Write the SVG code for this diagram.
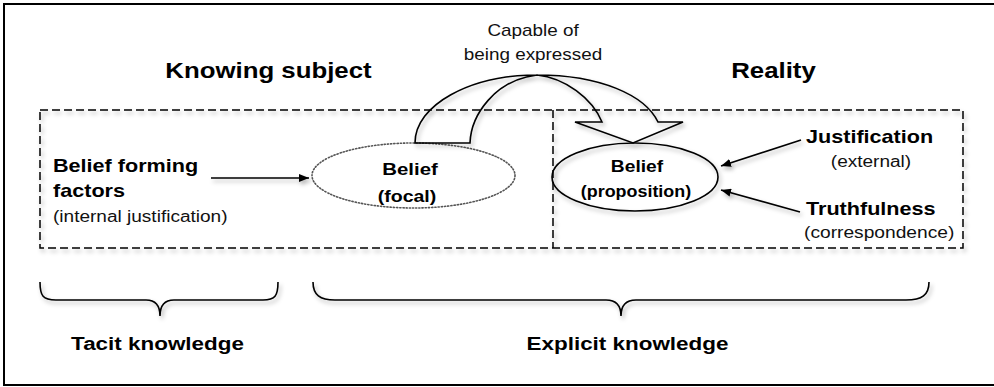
<svg xmlns="http://www.w3.org/2000/svg" width="994" height="387" viewBox="0 0 994 387">
<style>
.b{font-family:"Liberation Sans",Arial,sans-serif;font-weight:bold;fill:#000}
.r{font-family:"Liberation Sans",Arial,sans-serif;font-weight:normal;fill:#111}
.ln{fill:none;stroke:#000;stroke-width:1.6}
.dash{fill:none;stroke:#000;stroke-width:1.5;stroke-dasharray:8 4}
</style>
<defs>
<filter id="sh" x="-10%" y="-10%" width="130%" height="140%">
<feDropShadow dx="2" dy="3" stdDeviation="2" flood-color="#000" flood-opacity="0.3"/>
</filter>
<marker id="ah" viewBox="0 0 10 8" refX="10" refY="4" markerWidth="10" markerHeight="8" markerUnits="userSpaceOnUse" orient="auto">
<path d="M0,0 L10,4 L0,8 Z" fill="#000"/>
</marker>
</defs>
<rect x="0" y="0" width="994" height="387" fill="#fff"/>
<rect x="4" y="4" width="996" height="381" fill="none" stroke="#000" stroke-width="2"/>

<g id="regions" filter="url(#sh)">
<rect class="dash" x="40" y="110" width="923" height="138"/>
<line class="dash" x1="553" y1="110" x2="553" y2="248"/>
</g>

<g id="titles">
<text class="b" font-size="21.5" text-anchor="middle" transform="translate(268.5,78) scale(1.2,1)">Knowing subject</text>
<text class="b" font-size="21.5" text-anchor="middle" transform="translate(773.5,78) scale(1.2,1)">Reality</text>
<text class="r" font-size="16" text-anchor="middle" transform="translate(533,36) scale(1.18,1)">Capable of</text>
<text class="r" font-size="16" text-anchor="middle" transform="translate(533,60) scale(1.18,1)">being expressed</text>
</g>

<g id="factors">
<text class="b" font-size="18" transform="translate(53,172) scale(1.2,1)">Belief forming</text>
<text class="b" font-size="18" transform="translate(53,197) scale(1.2,1)">factors</text>
<text class="r" font-size="16" transform="translate(53,222) scale(1.19,1)">(internal justification)</text>
</g>

<g id="focal">
<ellipse cx="413.5" cy="175.5" rx="101.5" ry="32.5" fill="none" stroke="#555" stroke-width="1.6" stroke-dasharray="1.2 2" stroke-linecap="round"/>
<text class="b" font-size="17" text-anchor="middle" transform="translate(410,175) scale(1.2,1)">Belief</text>
<text class="b" font-size="17" text-anchor="middle" transform="translate(407,202) scale(1.15,1)">(focal)</text>
</g>

<g id="proposition">
<ellipse cx="635" cy="177" rx="83" ry="34" fill="none" stroke="#000" stroke-width="1.6" filter="url(#sh)"/>
<text class="b" font-size="16" text-anchor="middle" transform="translate(637,172) scale(1.2,1)">Belief</text>
<text class="b" font-size="16" text-anchor="middle" transform="translate(636,197) scale(1.12,1)">(proposition)</text>
</g>

<g id="justification">
<text class="b" font-size="18" transform="translate(806,143) scale(1.2,1)">Justification</text>
<text class="r" font-size="16" text-anchor="middle" transform="translate(871,167) scale(1.19,1)">(external)</text>
</g>

<g id="truthfulness">
<text class="b" font-size="18" transform="translate(806,215) scale(1.2,1)">Truthfulness</text>
<text class="r" font-size="16" transform="translate(804,238) scale(1.2,1)">(correspondence)</text>
</g>

<g id="tacit">
<path class="ln" filter="url(#sh)" d="M40,282 C40,296 43,300 56,300 L146,300 C155,300 160,305 160,316 C160,305 165,300 174,300 L263,300 C275,300 278,296 278,282"/>
<text class="b" font-size="18.7" text-anchor="middle" transform="translate(157.5,350) scale(1.2,1)">Tacit knowledge</text>
</g>

<g id="explicit">
<path class="ln" filter="url(#sh)" d="M313,282 C313,295 320,300 335,300 L606,300 C616,300 621,305 621,316 C621,305 626,300 636,300 L906,300 C922,300 929,295 929,282"/>
<text class="b" font-size="18.7" text-anchor="middle" transform="translate(627.5,350) scale(1.2,1)">Explicit knowledge</text>
</g>

<g id="connectors" filter="url(#sh)">
<line class="ln" x1="211" y1="178" x2="309" y2="178" marker-end="url(#ah)"/>
<line class="ln" x1="801" y1="140" x2="721" y2="166" marker-end="url(#ah)"/>
<line class="ln" x1="800" y1="212" x2="721" y2="190" marker-end="url(#ah)"/>
<path class="ln" d="M415,143 C415,105 470,75 537,75 C600,75 645,95 658,122 L683,122 L633,143 L575,122 L602,122 C592,98 565,78 537,75 C495,80 471,115 470,143 Z"/>
</g>
</svg>
